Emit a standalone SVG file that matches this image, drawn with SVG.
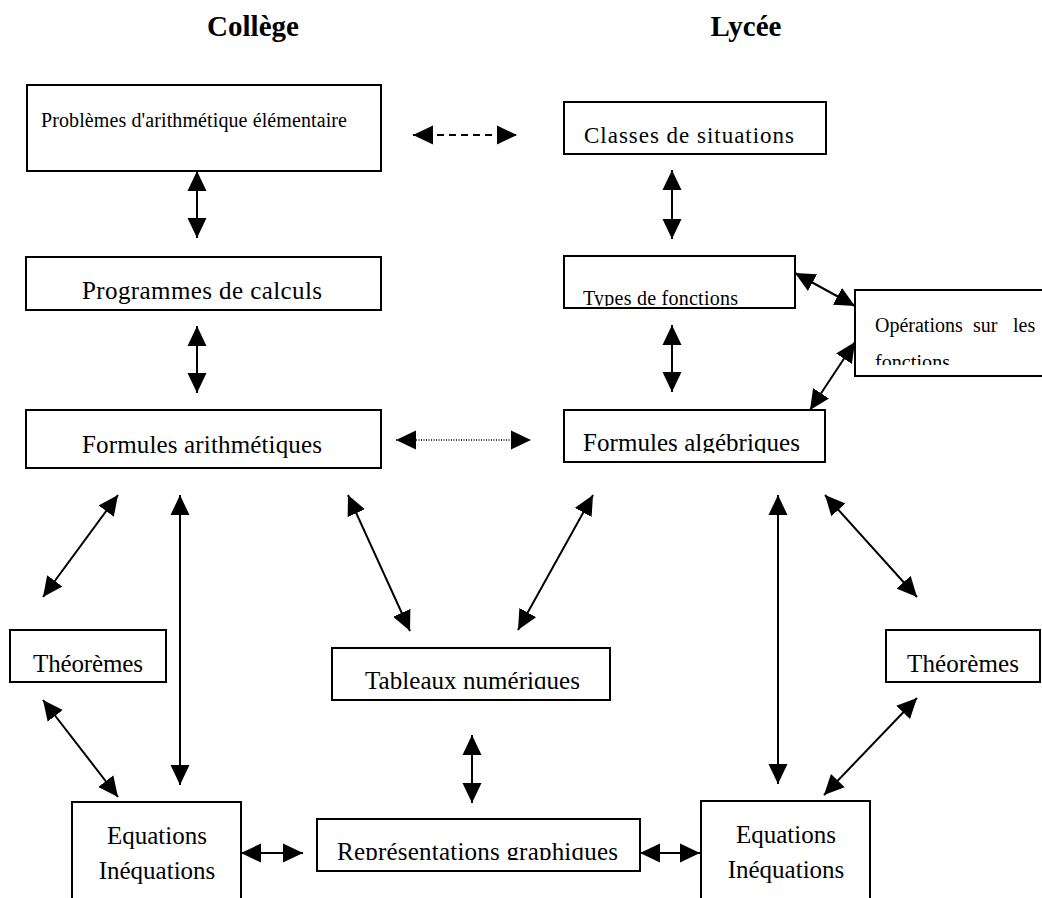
<svg xmlns="http://www.w3.org/2000/svg" width="1042" height="898" viewBox="0 0 1042 898">
<style>
text{font-family:"Liberation Serif","Times New Roman",serif;fill:#000}
.title{font-size:29px;font-weight:bold;text-anchor:middle}
.box{fill:#fff;stroke:#000;stroke-width:2}
.big{font-size:25px}
.mid{font-size:23px}
.small{font-size:20px}
.c{text-anchor:middle}
.conn line{stroke:#000;stroke-width:2;marker-start:url(#ah);marker-end:url(#ah)}
.conn line.dash{stroke-dasharray:7 5}
.conn line.dot{stroke-width:1.3;stroke-dasharray:1 1.5}
</style>
<defs>
<marker id="ah" viewBox="0 0 20 20" refX="20" refY="10" markerWidth="20" markerHeight="20" markerUnits="userSpaceOnUse" orient="auto-start-reverse">
<path d="M0,0.5 L20,10 L0,19.5 z" fill="#000"/>
</marker>
<clipPath id="clipTypes"><rect x="560" y="250" width="240" height="56"/></clipPath>
<clipPath id="clipFalg"><rect x="560" y="405" width="270" height="48"/></clipPath>
<clipPath id="clipOps"><rect x="850" y="285" width="192" height="80"/></clipPath>
<clipPath id="clipTab"><rect x="330" y="645" width="285" height="44"/></clipPath>
<clipPath id="clipRep"><rect x="315" y="815" width="330" height="45"/></clipPath>
</defs>
<rect width="1042" height="898" fill="#fff"/>

<text class="title" x="253" y="36">Collège</text>
<text class="title" x="746" y="36">Lycée</text>

<g id="connectors" class="conn">
<line class="dash" x1="413" y1="135" x2="517" y2="135"/>
<line x1="197" y1="171" x2="197" y2="238"/>
<line x1="197" y1="326" x2="197" y2="393"/>
<line class="dot" x1="396" y1="440" x2="531" y2="440"/>
<line x1="672" y1="170" x2="672" y2="239"/>
<line x1="672" y1="325" x2="672" y2="392"/>
<line x1="795" y1="273" x2="855" y2="306"/>
<line x1="855" y1="342" x2="810" y2="410"/>
<line x1="118" y1="495" x2="43" y2="597"/>
<line x1="180" y1="495" x2="180" y2="785"/>
<line x1="348" y1="495" x2="410" y2="631"/>
<line x1="593" y1="495" x2="518" y2="630"/>
<line x1="778" y1="495" x2="778" y2="784"/>
<line x1="825" y1="495" x2="917" y2="597"/>
<line x1="43" y1="700" x2="118" y2="797"/>
<line x1="917" y1="698" x2="824" y2="795"/>
<line x1="472" y1="735" x2="472" y2="803"/>
<line x1="241" y1="853" x2="303" y2="853"/>
<line x1="640" y1="853" x2="700" y2="853"/>
</g>

<g id="n-problemes">
<rect class="box" x="27" y="85" width="354" height="86"/>
<text class="small" x="41" y="127" textLength="306">Problèmes d'arithmétique élémentaire</text>
</g>
<g id="n-classes">
<rect class="box" x="564" y="102" width="262" height="52"/>
<text class="mid" x="584" y="143" textLength="210">Classes de situations</text>
</g>
<g id="n-programmes">
<rect class="box" x="26" y="257" width="355" height="53"/>
<text class="big" x="82" y="299" textLength="240">Programmes de calculs</text>
</g>
<g id="n-types">
<rect class="box" x="564" y="256" width="231" height="52"/>
<text class="small" x="583" y="305" textLength="155" clip-path="url(#clipTypes)">Types de fonctions</text>
</g>
<g id="n-operations">
<rect class="box" x="855" y="290" width="190" height="86"/>
<text class="small" y="332" clip-path="url(#clipOps)"><tspan x="875">Opérations</tspan><tspan x="973">sur</tspan><tspan x="1013">les</tspan></text>
<text class="small" x="875" y="369" textLength="75" clip-path="url(#clipOps)">fonctions</text>
</g>
<g id="n-formules-arith">
<rect class="box" x="26" y="410" width="355" height="58"/>
<text class="big" x="82" y="453" textLength="240">Formules arithmétiques</text>
</g>
<g id="n-formules-alg">
<rect class="box" x="564" y="410" width="261" height="52"/>
<text class="big" x="583" y="451" textLength="217" clip-path="url(#clipFalg)">Formules algébriques</text>
</g>
<g id="n-theoremes-l">
<rect class="box" x="10" y="630" width="156" height="52"/>
<text class="big" x="33" y="672" textLength="110">Théorèmes</text>
</g>
<g id="n-tableaux">
<rect class="box" x="332" y="648" width="278" height="52"/>
<text class="big" x="365" y="689" textLength="215" clip-path="url(#clipTab)">Tableaux numériques</text>
</g>
<g id="n-theoremes-r">
<rect class="box" x="886" y="630" width="154" height="52"/>
<text class="big" x="907" y="672" textLength="112">Théorèmes</text>
</g>
<g id="n-equations-l">
<rect class="box" x="72" y="802" width="169" height="110"/>
<text class="big c" x="157" y="844">Equations</text>
<text class="big c" x="157" y="879">Inéquations</text>
</g>
<g id="n-representations">
<rect class="box" x="317" y="819" width="323" height="52"/>
<text class="big" x="337" y="860" textLength="281" clip-path="url(#clipRep)">Représentations graphiques</text>
</g>
<g id="n-equations-r">
<rect class="box" x="701" y="801" width="169" height="110"/>
<text class="big c" x="786" y="843">Equations</text>
<text class="big c" x="786" y="878">Inéquations</text>
</g>
</svg>
